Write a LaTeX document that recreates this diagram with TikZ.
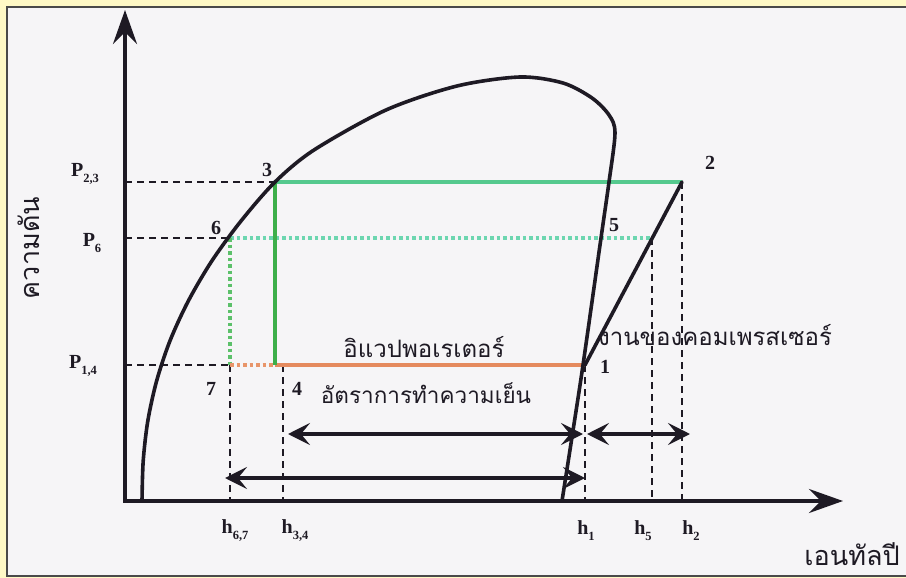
\documentclass[tikz,border=0pt]{standalone}
\usepackage{fontspec}
\setmainfont{Liberation Serif}
\newfontfamily\thaifont[Script=Thai]{Loma}
\usetikzlibrary{arrows.meta}
\definecolor{framebg}{HTML}{FFF9C6}
\definecolor{panelbg}{HTML}{F6F5F7}
\definecolor{framedraw}{HTML}{4A4A4A}
\definecolor{ink}{HTML}{1E1A24}
\definecolor{greentop}{HTML}{55C98E}
\definecolor{greenvert}{HTML}{3DAF4A}
\definecolor{mintdot}{HTML}{6DD6B0}
\definecolor{greendot}{HTML}{5CC06A}
\definecolor{orangeln}{HTML}{E58A5E}
\definecolor{orangedt}{HTML}{E8956A}
\newcommand\lsub[2]{#1\raisebox{-6pt}{\fontsize{12.5}{12.5}\selectfont #2}}
\tikzset{
  curveln/.style={draw=ink, line width=3.6pt, line cap=round, line join=round},
  axisln/.style={draw=ink, line width=3.6pt, line join=miter,
    {Stealth[length=34pt,width=24pt,inset=12pt]}-{Stealth[length=34pt,width=24pt,inset=12pt]}},
  dashln/.style={draw=ink, line width=1.8pt, dash pattern=on 7pt off 5pt},
  dimarrow/.style={draw=ink, line width=3.2pt,
    {Stealth[length=22pt,width=22pt,inset=9pt]}-{Stealth[length=22pt,width=22pt,inset=9pt]}},
  dotln/.style={line width=3.6pt, dash pattern=on 3.5pt off 3pt},
  solidln/.style={line width=3.6pt},
  lbl/.style={font=\bfseries\fontsize{20}{20}\selectfont, text=ink, inner sep=0pt},
  thlabel/.style={font=\thaifont\fontsize{24}{24}\selectfont, text=ink, inner sep=0pt},
  thaxis/.style={font=\thaifont\fontsize{27}{27}\selectfont, text=ink, inner sep=0pt}
}
\begin{document}
\begin{tikzpicture}[x=1pt,y=-1pt]
\useasboundingbox (0,0) rectangle (906,578);
\fill[framebg] (0,0) rectangle (906,578);
\fill[panelbg] (7,7) rectangle (906,576);
\draw[framedraw, line width=1.6pt] (910,7) -- (7,7) -- (7,576) -- (910,576);

% key points
\coordinate (O) at (125,501);
\coordinate (Ytip) at (125,10);
\coordinate (Xtip) at (843,501);
\coordinate (s1) at (585,365);
\coordinate (s2) at (682,182);
\coordinate (s3) at (275,182);
\coordinate (s4) at (275,365);
\coordinate (s5) at (652,238);
\coordinate (s6) at (230,238);
\coordinate (s7) at (230,365);
\coordinate (v34) at (283,365);

% Thai labels
\node[thlabel] (evap) at (424,347) {อิแวปพอเรเตอร์};
\node[thlabel, font=\thaifont\fontsize{22.5}{22.5}\selectfont] (cool) at (426,393) {อัตราการทำความเย็น};
\node[thlabel] (comp) at (715,335) {งานของคอมเพรสเซอร์};
\node[thaxis, rotate=90, anchor=base] (ylab) at (39,248) {ความดัน};
\node[thaxis, anchor=base east] (xlab) at (900,565) {เอนทัลปี};

% dashed guide lines
\draw[dashln] (O |- s3) -- (s3);
\draw[dashln] (O |- s6) -- (s6);
\draw[dashln] (O |- s7) -- (s7);
\draw[dashln] (s7) -- (s7 |- O);
\draw[dashln] (v34) -- (v34 |- O);
\draw[dashln] (s1) -- (s1 |- O);
\draw[dashln] (s5) -- (s5 |- O);
\draw[dashln] (s2) -- (s2 |- O);

% coloured process lines
\draw[solidln, greentop] (s3) -- (s2);
\draw[dotln, mintdot] (s6) -- (s5);
\draw[dotln, greendot] (s6) -- (s7);
\draw[dotln, orangedt] (s7) -- (s4);
\draw[solidln, orangeln] (s4) -- (s1);
\draw[solidln, greenvert] (s3) -- (s4);

% saturation dome
\draw[curveln] plot[smooth, tension=0.5] coordinates {
  (142,501) (143.2,461) (147.8,421) (156.6,381) (169.9,341) (188.3,301)
  (211.8,261) (241,221) (275,182) (314,150) (386,110) (457,86)
  (520,77) (563,83) (592,98) (609,115) (615,133) (609,182)
  (601,238) (583,365) (572,437) (562,501)};
% compression line
\draw[curveln] (s1) -- (s2);

% axes
\draw[axisln] (Ytip) -- (O) -- (Xtip);

% dimension arrows
\coordinate (a1l) at (288,434); \coordinate (a1r) at (583,434);
\coordinate (a2l) at (587,434); \coordinate (a2r) at (690,434);
\coordinate (a3l) at (225,478); \coordinate (a3r) at (585,478);
\draw[dimarrow] (a1l) -- (a1r);
\draw[dimarrow] (a2l) -- (a2r);
\draw[dimarrow] (a3l) -- (a3r);

% pressure labels
\node[lbl] (p23) at (85,174) {\lsub{P}{2,3}};
\node[lbl] (p6) at (92,243) {\lsub{P}{6}};
\node[lbl] (p14) at (83,366) {\lsub{P}{1,4}};

% state point numbers
\node[lbl] (n1) at (605,367) {1};
\node[lbl] (n2) at (710,163) {2};
\node[lbl] (n3) at (267,170) {3};
\node[lbl] (n4) at (297,389) {4};
\node[lbl] (n5) at (614,225) {5};
\node[lbl] (n6) at (216,228) {6};
\node[lbl] (n7) at (211,389) {7};

% enthalpy labels
\node[lbl] (h67) at (235,531) {\lsub{h}{6,7}};
\node[lbl] (h34) at (295,531) {\lsub{h}{3,4}};
\node[lbl] (h1) at (586,531) {\lsub{h}{1}};
\node[lbl] (h5) at (643,531) {\lsub{h}{5}};
\node[lbl] (h2) at (691,531) {\lsub{h}{2}};
\end{tikzpicture}
\end{document}
